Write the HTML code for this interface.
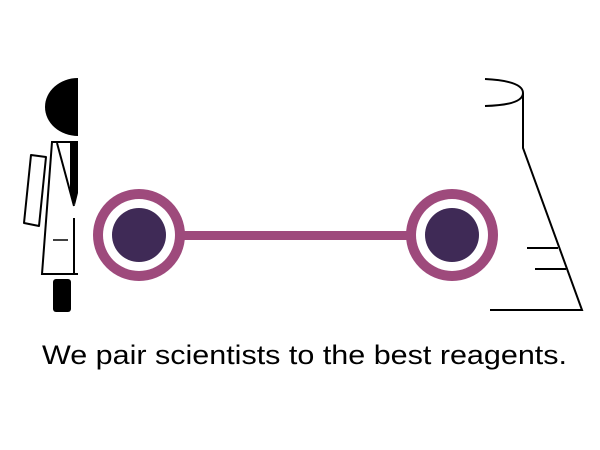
<!DOCTYPE html>
<html><head><meta charset="utf-8"><style>html,body{margin:0;padding:0;background:#fff;width:600px;height:450px;overflow:hidden}</style></head>
<body>
<svg width="600" height="450" viewBox="0 0 600 450">
<g stroke="#000" stroke-width="2" fill="none">
  <path d="M78 78 A33 29 0 0 0 78 136 Z" fill="#000" stroke="none"/>
  <polygon points="31,155 46,157 39,226 24,223" stroke-linejoin="round"/>
  <polyline points="78,142 52,142 42,274 78,274"/>
  <line x1="57" y1="143" x2="74" y2="206"/>
  <polygon points="70,142 78,142 78,193 75,205 70,193" fill="#000" stroke="none"/>
  <line x1="74" y1="218" x2="74" y2="274"/>
  <line x1="53" y1="240" x2="68" y2="240" stroke-width="1.5"/>
  <rect x="53" y="279" width="18" height="33" rx="3" fill="#000" stroke="none"/>
</g>
<g>
  <rect x="139" y="231" width="313" height="9" fill="#9e4a7c"/>
  <circle cx="139" cy="235" r="46" fill="#9e4a7c"/>
  <circle cx="139" cy="235" r="36" fill="#fff"/>
  <circle cx="139" cy="235" r="27" fill="#3f2a56"/>
  <circle cx="452" cy="235" r="46" fill="#9e4a7c"/>
  <circle cx="452" cy="235" r="36" fill="#fff"/>
  <circle cx="452" cy="235" r="27" fill="#3f2a56"/>
</g>
<g stroke="#000" stroke-width="2" fill="none">
  <path d="M485 79 Q523 81 523 93 Q523 105 485 106"/>
  <polyline points="523,93 523,148 582,310 490,310"/>
  <line x1="527" y1="248" x2="558" y2="248"/>
  <line x1="535" y1="269" x2="566" y2="269"/>
</g>
<text x="42" y="364" font-family="Liberation Sans, sans-serif" font-size="27" fill="#000" textLength="525" lengthAdjust="spacingAndGlyphs">We pair scientists to the best reagents.</text>
</svg>
</body></html>
